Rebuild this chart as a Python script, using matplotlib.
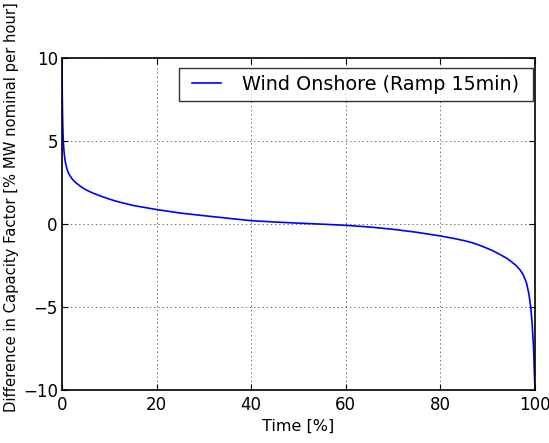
import matplotlib
matplotlib.use("Agg")
import matplotlib.pyplot as plt
from matplotlib.path import Path

time_pct = [0, 0.05, 0.12, 0.2, 0.27, 0.4, 0.5, 0.7, 1.0, 1.35, 2.0, 2.5, 3.0, 4.0, 5.0, 6.0, 7.0, 8.5, 10, 12,
            15, 20, 25, 30, 40, 45, 50, 55, 60, 65, 70, 75, 80, 82.5, 85, 86.5, 88, 89.5, 91, 92.5, 94, 95, 96,
            96.8, 97.5, 98.2, 98.7, 99.1, 99.4, 99.7, 99.85, 100]
diff_cf = [9.7, 7.9, 6.5, 5.6, 5.0, 4.45, 4.17, 3.75, 3.37, 3.07, 2.77, 2.6, 2.47, 2.25, 2.07, 1.93, 1.81, 1.65,
           1.5, 1.33, 1.12, 0.87, 0.66, 0.5, 0.2, 0.12, 0.05, -0.01, -0.08, -0.18, -0.32, -0.5, -0.72, -0.85,
           -1.0, -1.11, -1.25, -1.42, -1.6, -1.82, -2.06, -2.27, -2.5, -2.75, -3.05, -3.55, -4.2, -5.0, -6.0,
           -7.5, -8.8, -10]

series_label = "Wind Onshore (Ramp 15min)"
xlabel = "Time [%]"
ylabel = "Difference in Capacity Factor [% MW nominal per hour]"

fig = plt.figure(figsize=(5.49, 4.43), dpi=100)
ax = fig.add_axes([62/549, 1-390/443, (535-62)/549, (390-58)/443])
ax.plot(time_pct, diff_cf, color="blue", lw=1.2, label=series_label)
ax.set_xlim(0, 100)
ax.set_ylim(-10, 10)
ax.set_xticks([0, 20, 40, 60, 80, 100])
ax.set_yticks([-10, -5, 0, 5, 10])
ax.grid(True, color="black", linestyle=(0, (2, 4)), linewidth=0.5, alpha=0.8)
ax.tick_params(direction="in", top=True, right=True, labelsize=12, length=4)
ax.tick_params(axis="x", pad=4)
ax.tick_params(axis="y", pad=3)
for s in ax.spines.values():
    s.set_linewidth(1.2)
ax.set_xlabel(xlabel, fontsize=11.5, labelpad=4)
fig.text(12/549, 1-207/443, ylabel, rotation=90, ha="center", va="center", fontsize=10.6)

EXTRA_X = 7.0  # extra horizontal frame padding in pixels


def wide_square(x0, y0, width, height, mutation_size):
    xa, xb = x0 - EXTRA_X, x0 + width + EXTRA_X
    ya, yb = y0, y0 + height
    return Path([(xa, ya), (xb, ya), (xb, yb), (xa, yb), (xa, ya)], closed=True)


leg = ax.legend(loc="upper right", bbox_to_anchor=((532.7 - EXTRA_X - 62) / 473, 0.969), borderaxespad=0,
                fontsize=13.75, fancybox=False, frameon=True, handlelength=1.5,
                handletextpad=1.1, borderpad=0.35)
leg.get_frame().set_boxstyle(wide_square)
leg.get_frame().set_edgecolor("black")
leg.get_frame().set_linewidth(1.0)
fig.savefig("out.png", dpi=100, facecolor="white")
